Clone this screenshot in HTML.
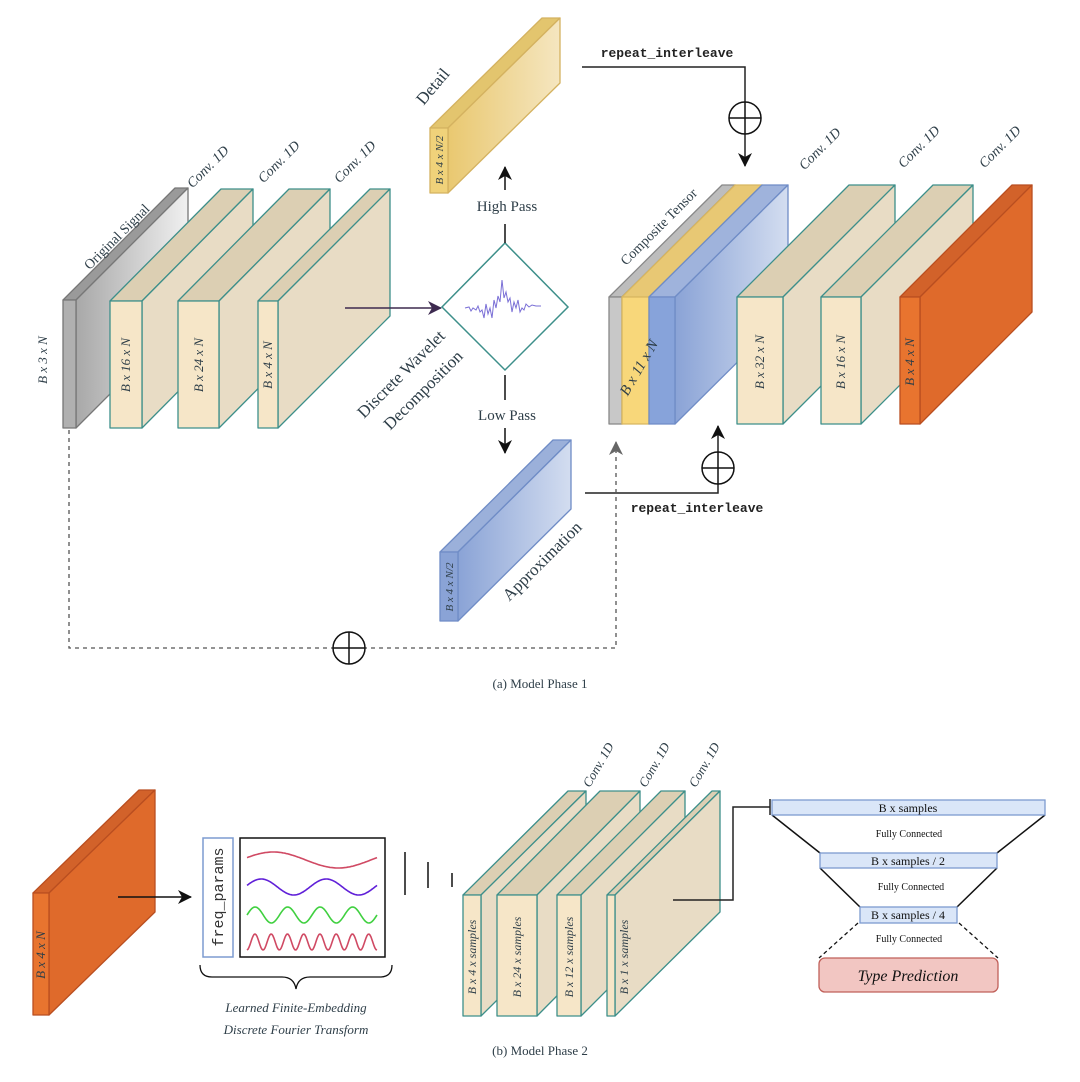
<!DOCTYPE html>
<html><head><meta charset="utf-8"><style>
html,body{margin:0;padding:0;background:#fff;width:1080px;height:1082px;overflow:hidden}
svg{display:block}
.s{font-family:"Liberation Serif",serif;fill:#2e3e48}
.i{font-family:"Liberation Serif",serif;font-style:italic;fill:#2e3e48}
.m{font-family:"Liberation Mono",monospace;font-weight:bold;fill:#222}
</style></head><body>
<svg id="sv" width="1080" height="1082" viewBox="0 0 1080 1082" xmlns="http://www.w3.org/2000/svg">
<defs>
<linearGradient id="gG" x1="0" x2="1"><stop offset="0" stop-color="#a8a8a8"/><stop offset="1" stop-color="#f0f0f0"/></linearGradient>
<linearGradient id="gY" x1="0" x2="1"><stop offset="0" stop-color="#e9c870"/><stop offset="1" stop-color="#f5e6c0"/></linearGradient>
<linearGradient id="gB" x1="0" x2="1"><stop offset="0" stop-color="#8aa3d6"/><stop offset="1" stop-color="#d3ddf0"/></linearGradient>
<marker id="ah" markerWidth="14" markerHeight="14" refX="13" refY="7" orient="auto" markerUnits="userSpaceOnUse"><path d="M0,0 L14,7 L0,14 L4,7 z" fill="#111"/></marker>
<marker id="ahp" markerWidth="14" markerHeight="14" refX="13" refY="7" orient="auto" markerUnits="userSpaceOnUse"><path d="M0,0 L14,7 L0,14 L4,7 z" fill="#3d2a4f"/></marker>
<marker id="ahg" markerWidth="14" markerHeight="14" refX="13" refY="7" orient="auto" markerUnits="userSpaceOnUse"><path d="M0,0 L14,7 L0,14 L4,7 z" fill="#666"/></marker>
</defs>
<g id="blocks"></g>

<line x1="345" y1="308" x2="441" y2="308" stroke="#3d2a4f" stroke-width="1.5" marker-end="url(#ahp)"/>
<polygon points="505,243 568,307 505,370 442,307" fill="#fff" stroke="#3d8f8a" stroke-width="1.5"/>
<path d="M465,308 l4,-1 l2,4 l2,-3 l3,2 l2,-4 l2,6 l2,-2 l2,8 l2,-14 l2,10 l2,-6 l2,10 l2,-18 l2,8 l2,-12 l2,6 l2,-22 l2,18 l2,-6 l2,10 l2,-4 l2,14 l2,-10 l2,6 l2,-8 l2,12 l2,-4 l2,2 l2,-6 l3,3 l3,-2 l4,1 l5,0" fill="none" stroke="#7a6fd6" stroke-width="1"/>
<line x1="505" y1="243" x2="505" y2="224" stroke="#111" stroke-width="1.5"/>
<line x1="505" y1="190" x2="505" y2="167" stroke="#111" stroke-width="1.5" marker-end="url(#ah)"/>
<text x="507" y="211" class="s" font-size="15" text-anchor="middle">High Pass</text>
<line x1="505" y1="375" x2="505" y2="400" stroke="#111" stroke-width="1.5"/>
<line x1="505" y1="428" x2="505" y2="453" stroke="#111" stroke-width="1.5" marker-end="url(#ah)"/>
<text x="507" y="420" class="s" font-size="15" text-anchor="middle">Low Pass</text>

<text x="667" y="57" class="m" font-size="13" text-anchor="middle">repeat_interleave</text>
<polyline points="582,67 745,67 745,166" fill="none" stroke="#222" stroke-width="1.5" marker-end="url(#ah)"/>
<circle cx="745" cy="118" r="16" fill="#fff" stroke="#111" stroke-width="1.5"/>
<path d="M729,118 h32 M745,102 v32" stroke="#111" stroke-width="1.5"/>

<polyline points="585,493 718,493 718,426" fill="none" stroke="#222" stroke-width="1.5" marker-end="url(#ah)"/>
<circle cx="718" cy="468" r="16" fill="#fff" stroke="#111" stroke-width="1.5"/>
<path d="M702,468 h32 M718,452 v32" stroke="#111" stroke-width="1.5"/>
<text x="697" y="512" class="m" font-size="13" text-anchor="middle">repeat_interleave</text>

<polyline points="69,430 69,648 616,648 616,442" fill="none" stroke="#555" stroke-width="1.3" stroke-dasharray="4,4" marker-end="url(#ahg)"/>
<circle cx="349" cy="648" r="16" fill="#fff" stroke="#111" stroke-width="1.5"/>
<path d="M333,648 h32 M349,632 v32" stroke="#111" stroke-width="1.5"/>

<text x="540" y="688" class="s" font-size="13" text-anchor="middle">(a) Model Phase 1</text>
<text x="540" y="1055" class="s" font-size="13" text-anchor="middle">(b) Model Phase 2</text>

<text class="s" font-size="14" text-anchor="middle" transform="translate(120,240) rotate(-45)">Original Signal</text>
<text class="i" font-size="13" text-anchor="middle" transform="translate(47,360) rotate(-90)">B x 3 x N</text>
<text class="i" font-size="14" text-anchor="middle" transform="translate(211,170) rotate(-45)">Conv. 1D</text>
<text class="i" font-size="14" text-anchor="middle" transform="translate(282,165) rotate(-45)">Conv. 1D</text>
<text class="i" font-size="14" text-anchor="middle" transform="translate(358,165) rotate(-45)">Conv. 1D</text>
<text class="i" font-size="13" text-anchor="middle" transform="translate(130,365) rotate(-90)">B x 16 x N</text>
<text class="i" font-size="13" text-anchor="middle" transform="translate(203,365) rotate(-90)">B x 24 x N</text>
<text class="i" font-size="13" text-anchor="middle" transform="translate(272,365) rotate(-90)">B x 4 x N</text>
<text class="s" font-size="17" text-anchor="middle" transform="translate(437,90) rotate(-50)">Detail</text>
<text class="i" font-size="11" text-anchor="middle" transform="translate(443,160) rotate(-90)">B x 4 x N/2</text>
<text class="i" font-size="11" text-anchor="middle" transform="translate(453,587) rotate(-90)">B x 4 x N/2</text>
<text class="s" font-size="17" text-anchor="middle" transform="translate(546,565) rotate(-45)">Approximation</text>
<text class="s" font-size="17" text-anchor="middle" transform="translate(405,378) rotate(-45)">Discrete Wavelet</text>
<text class="s" font-size="17" text-anchor="middle" transform="translate(427,394) rotate(-45)">Decomposition</text>
<text class="s" font-size="14" text-anchor="middle" transform="translate(662,230) rotate(-45)">Composite Tensor</text>
<text class="i" font-size="15" text-anchor="middle" transform="translate(643,370) rotate(-60)">B x 11 x N</text>
<text class="i" font-size="14" text-anchor="middle" transform="translate(823,152) rotate(-45)">Conv. 1D</text>
<text class="i" font-size="14" text-anchor="middle" transform="translate(922,150) rotate(-45)">Conv. 1D</text>
<text class="i" font-size="14" text-anchor="middle" transform="translate(1003,150) rotate(-45)">Conv. 1D</text>
<text class="i" font-size="13" text-anchor="middle" transform="translate(764,362) rotate(-90)">B x 32 x N</text>
<text class="i" font-size="13" text-anchor="middle" transform="translate(845,362) rotate(-90)">B x 16 x N</text>
<text class="i" font-size="13" text-anchor="middle" transform="translate(914,362) rotate(-90)">B x 4 x N</text>

<text class="i" font-size="13" text-anchor="middle" transform="translate(45,955) rotate(-90)">B x 4 x N</text>
<line x1="118" y1="897" x2="191" y2="897" stroke="#111" stroke-width="1.5" marker-end="url(#ah)"/>
<rect x="203" y="838" width="30" height="119" fill="#fff" stroke="#7d9bd0" stroke-width="1.5"/>
<text font-family="Liberation Mono,monospace" font-size="15" fill="#333" text-anchor="middle" transform="translate(223,897) rotate(-90)">freq_params</text>
<rect x="240" y="838" width="145" height="119" fill="#fff" stroke="#111" stroke-width="1.5"/>
<g id="waves"></g>
<line x1="405" y1="852" x2="405" y2="895" stroke="#111" stroke-width="1.5"/>
<line x1="428" y1="862" x2="428" y2="888" stroke="#111" stroke-width="1.5"/>
<line x1="452" y1="873" x2="452" y2="887" stroke="#111" stroke-width="1.5"/>
<path d="M200,965 q0,12 12,12 h70 q12,0 14,12 q2,-12 14,-12 h70 q12,0 12,-12" fill="none" stroke="#111" stroke-width="1.3"/>
<text x="296" y="1012" class="i" font-size="13" text-anchor="middle">Learned Finite-Embedding</text>
<text x="296" y="1034" class="i" font-size="13" text-anchor="middle">Discrete Fourier Transform</text>

<text class="i" font-size="13" text-anchor="middle" transform="translate(602,767) rotate(-60)">Conv. 1D</text>
<text class="i" font-size="13" text-anchor="middle" transform="translate(658,767) rotate(-60)">Conv. 1D</text>
<text class="i" font-size="13" text-anchor="middle" transform="translate(708,767) rotate(-60)">Conv. 1D</text>
<text class="i" font-size="12" text-anchor="middle" transform="translate(476,957) rotate(-90)">B x 4 x samples</text>
<text class="i" font-size="12" text-anchor="middle" transform="translate(521,957) rotate(-90)">B x 24 x samples</text>
<text class="i" font-size="12" text-anchor="middle" transform="translate(573,957) rotate(-90)">B x 12 x samples</text>
<text class="i" font-size="12" text-anchor="middle" transform="translate(628,957) rotate(-90)">B x 1 x samples</text>
<polyline points="673,900 733,900 733,807 770,807" fill="none" stroke="#222" stroke-width="1.5"/>
<line x1="770" y1="799" x2="770" y2="815" stroke="#222" stroke-width="1.5"/>

<line x1="772" y1="815" x2="820" y2="853" stroke="#111" stroke-width="1.5"/>
<line x1="1045" y1="815" x2="997" y2="853" stroke="#111" stroke-width="1.5"/>
<line x1="820" y1="868" x2="860" y2="907" stroke="#111" stroke-width="1.5"/>
<line x1="997" y1="868" x2="957" y2="907" stroke="#111" stroke-width="1.5"/>
<line x1="858" y1="923" x2="819" y2="958" stroke="#111" stroke-width="1.3" stroke-dasharray="4,3"/>
<line x1="959" y1="923" x2="998" y2="958" stroke="#111" stroke-width="1.3" stroke-dasharray="4,3"/>
<rect x="772" y="800" width="273" height="15" fill="#dae6f8" stroke="#7d9bd0" stroke-width="1.3"/>
<text x="908" y="812" class="s" font-size="12" text-anchor="middle" style="fill:#111">B x samples</text>
<rect x="820" y="853" width="177" height="15" fill="#dae6f8" stroke="#7d9bd0" stroke-width="1.3"/>
<text x="908" y="865" class="s" font-size="12" text-anchor="middle" style="fill:#111">B x samples / 2</text>
<rect x="860" y="907" width="97" height="16" fill="#dae6f8" stroke="#7d9bd0" stroke-width="1.3"/>
<text x="908" y="919" class="s" font-size="12" text-anchor="middle" style="fill:#111">B x samples / 4</text>
<text x="909" y="837" class="s" font-size="10" text-anchor="middle" style="fill:#111">Fully Connected</text>
<text x="911" y="890" class="s" font-size="10" text-anchor="middle" style="fill:#111">Fully Connected</text>
<text x="909" y="942" class="s" font-size="10" text-anchor="middle" style="fill:#111">Fully Connected</text>
<rect x="819" y="958" width="179" height="34" rx="6" fill="#f2c6c2" stroke="#c0605a" stroke-width="1.3"/>
<text x="908" y="981" class="i" font-size="16" text-anchor="middle" style="fill:#111">Type Prediction</text>
</svg>
<script>
var NS="http://www.w3.org/2000/svg",G=document.getElementById("blocks");
function P(pts,f,s){var p=document.createElementNS(NS,"polygon");p.setAttribute("points",pts.map(function(a){return a.join(",")}).join(" "));p.setAttribute("fill",f);p.setAttribute("stroke",s);p.setAttribute("stroke-width","1.3");p.setAttribute("stroke-linejoin","round");G.appendChild(p);}
function B(x1,x2,y1,y2,dx,dy,front,top,side,st){
P([[x1,y1],[x2,y1],[x2+dx,y1+dy],[x1+dx,y1+dy]],top,st);
P([[x2,y1],[x2+dx,y1+dy],[x2+dx,y2+dy],[x2,y2]],side,st);
P([[x1,y1],[x2,y1],[x2,y2],[x1,y2]],front,st);}
var bf="#f6e6c8",bt="#dccfb3",bs="#e8dcc5",tl="#3d8f8a";
var of="#e8742f",ot="#d2622a",os="#df6a2b",oc="#b94e20";
B(63,76,300,428,112,-112,"#b0b0b0","#9a9a9a","url(#gG)","#777");
B(110,142,301,428,111,-112,bf,bt,bs,tl);
B(178,219,301,428,111,-112,bf,bt,bs,tl);
B(258,278,301,428,112,-112,bf,bt,bs,tl);
B(430,448,128,193,112,-110,"#f0d27a","#e3c56e","url(#gY)","#d4b260");
B(440,458,552,621,113,-112,"#8aa3d6","#9bb0da","url(#gB)","#6f8cc6");
B(609,622,297,424,113,-112,"#c8c8c8","#bdbdbd","#ccc","#888");
B(622,649,297,424,113,-112,"#f8d77a","#e8c874","#ecd090","#d8b660");
B(649,675,297,424,113,-112,"#87a3da","#9fb3dc","url(#gB)","#6f8cc6");
B(737,783,297,424,112,-112,bf,bt,bs,tl);
B(821,861,297,424,112,-112,bf,bt,bs,tl);
B(900,920,297,424,112,-112,of,ot,os,oc);
B(33,49,893,1015,106,-103,of,ot,os,oc);
B(463,481,895,1016,105,-104,bf,bt,bs,tl);
B(497,537,895,1016,103,-104,bf,bt,bs,tl);
B(557,581,895,1016,104,-104,bf,bt,bs,tl);
B(607,615,895,1016,105,-104,bf,bt,bs,tl);
var W=document.getElementById("waves");
function wave(cy,amp,cyc,col,ph){var d="";for(var i=0;i<=130;i++){var x=247+i,y=cy+amp*Math.sin(ph+i/130*cyc*2*Math.PI);d+=(i?"L":"M")+x+","+y.toFixed(1);}var p=document.createElementNS(NS,"path");p.setAttribute("d",d);p.setAttribute("fill","none");p.setAttribute("stroke",col);p.setAttribute("stroke-width","1.6");W.appendChild(p);}
wave(860,-8,1,"#d04a64",0.3);wave(887,-8,2,"#6020d8",0.2);wave(915,-8,4,"#40d040",0);wave(942,-8,8,"#d04a64",-1.5);
</script>
</body></html>
